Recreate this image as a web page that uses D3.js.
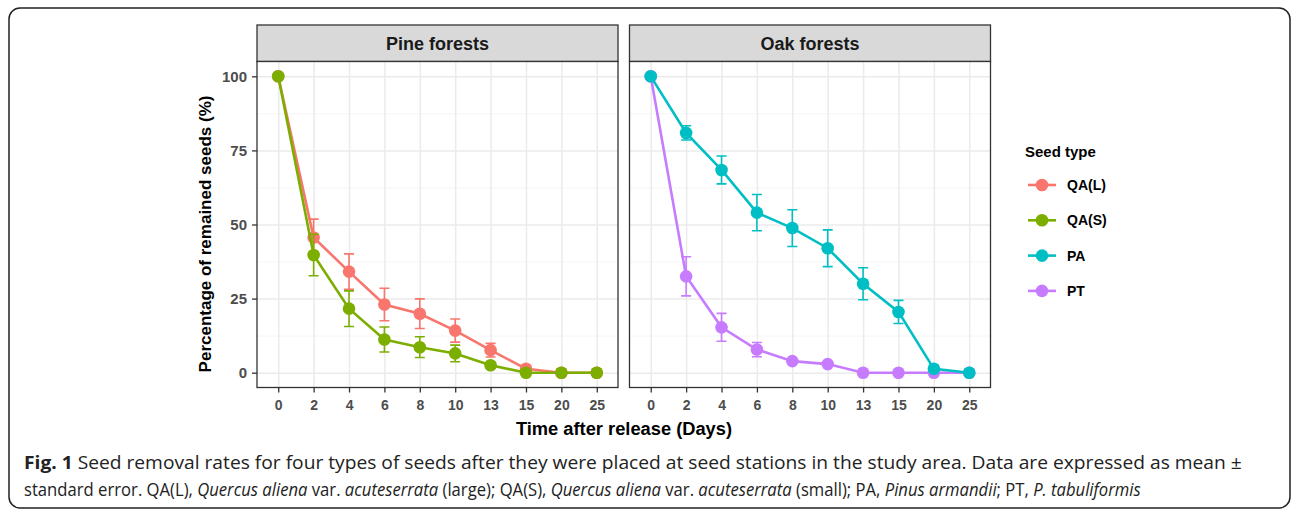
<html>
<head>
    <script src="https://d3js.org/d3.v7.min.js"></script>
    <style>
        body { margin: 0; background: #fff; }
        .gridlines line { stroke: #ebebeb; }
        .gridlines .domain { stroke: none; }
        .minor line { stroke: #f2f2f2; }
        .axis text { font-family: "Liberation Sans", Arial, sans-serif; font-weight: bold; fill: #4d4d4d; }
        .axis line, .axis .domain { stroke: #333; }
        .axis .domain { display: none; }
    </style>
</head>
<body>
<svg height="511" width="1292"></svg>
<script>
    // categories (days, treated as discrete levels)
    const days = ["0", "2", "4", "6", "8", "10", "13", "15", "20", "25"];
    const yTicks = [0, 25, 50, 75, 100];
    const panels = ["Pine forests", "Oak forests"];
    const seedTypes = ["QA(L)", "QA(S)", "PA", "PT"];
    const seedColors = ["#F8766D", "#7CAE00", "#00BFC4", "#C77CFF"];

    // mean % of remained seeds and standard error
    const qaLMean = [100, 45.6, 34.1, 23.0, 19.9, 14.2, 7.6, 1.3, 0, 0];
    const qaLSe   = [0, 6.2, 6.0, 5.5, 5.0, 3.9, 2.3, 0.5, 0, 0];
    const qaSMean = [100, 39.7, 21.6, 11.2, 8.6, 6.5, 2.5, 0, 0, 0];
    const qaSSe   = [0, 7.0, 6.0, 4.2, 3.5, 2.8, 1.0, 0, 0, 0];
    const paMean  = [100, 80.9, 68.4, 54.0, 48.8, 42.0, 30.0, 20.5, 1.3, 0];
    const paSe    = [0, 2.4, 4.7, 6.1, 6.2, 6.2, 5.4, 3.9, 0.5, 0];
    const ptMean  = [100, 32.5, 15.3, 7.8, 3.9, 2.9, 0, 0, 0, 0];
    const ptSe    = [0, 6.6, 4.7, 2.4, 0, 0, 0, 0, 0, 0];

    const series = [
        { panel: 0, type: 0, mean: qaLMean, se: qaLSe },
        { panel: 0, type: 1, mean: qaSMean, se: qaSSe },
        { panel: 1, type: 3, mean: ptMean, se: ptSe },
        { panel: 1, type: 2, mean: paMean, se: paSe }
    ];

    const svg = d3.select("svg");
    const font = '"Liberation Sans", Arial, sans-serif';

    // outer figure frame
    svg.append("rect")
        .attr("x", 9).attr("y", 8)
        .attr("width", 1281).attr("height", 500)
        .attr("rx", 11)
        .attr("fill", "none")
        .attr("stroke", "#222")
        .attr("stroke-width", 1.5);

    const panelLefts = [257, 629.5];
    const panelWidth = 361;
    const stripTop = 25, panelTop = 61.5, panelBottom = 387.5;

    const yScale = d3.scaleLinear().domain([-5, 105]).range([panelBottom, panelTop]);

    panels.forEach((name, p) => {
        const x0 = panelLefts[p];
        const xScale = d3.scalePoint().domain(days)
            .range([x0, x0 + panelWidth]).padding(0.6);

        // strip
        svg.append("rect")
            .attr("x", x0).attr("y", stripTop)
            .attr("width", panelWidth).attr("height", panelTop - stripTop)
            .attr("fill", "#d9d9d9").attr("stroke", "#333").attr("stroke-width", 1.3);
        svg.append("text")
            .attr("x", x0 + panelWidth / 2).attr("y", 50)
            .attr("text-anchor", "middle")
            .attr("font-family", font).attr("font-weight", "bold")
            .attr("font-size", 18).attr("fill", "#1a1a1a")
            .text(name);

        // panel background
        svg.append("rect")
            .attr("x", x0).attr("y", panelTop)
            .attr("width", panelWidth).attr("height", panelBottom - panelTop)
            .attr("fill", "#fff");

        // minor y grid
        svg.append("g")
            .attr("class", "gridlines minor")
            .attr("transform", `translate(${x0},0)`)
            .call(d3.axisLeft(yScale).tickValues([12.5, 37.5, 62.5, 87.5]).tickFormat("").tickSize(-panelWidth))
            .selectAll("line").attr("stroke-width", 0.8);

        // major grid
        svg.append("g")
            .attr("class", "gridlines")
            .attr("transform", `translate(${x0},0)`)
            .call(d3.axisLeft(yScale).tickValues(yTicks).tickFormat("").tickSize(-panelWidth))
            .selectAll("line").attr("stroke-width", 1.5);
        svg.append("g")
            .attr("class", "gridlines")
            .attr("transform", `translate(0,${panelBottom})`)
            .call(d3.axisBottom(xScale).tickFormat("").tickSize(-(panelBottom - panelTop)))
            .selectAll("line").attr("stroke-width", 1.5);

        // series
        const area = svg.append("g");
        series.filter(s => s.panel === p).forEach(s => {
            const color = seedColors[s.type];
            const g = area.append("g");
            g.append("path")
                .datum(days)
                .attr("fill", "none")
                .attr("stroke", color)
                .attr("stroke-width", 2.6)
                .attr("d", d3.line().x(d => xScale(d)).y((d, i) => yScale(s.mean[i])));

            days.forEach((d, i) => {
                if (s.se[i] > 0.8) {
                    const x = xScale(d);
                    const yT = yScale(s.mean[i] + s.se[i]);
                    const yB = yScale(s.mean[i] - s.se[i]);
                    g.append("path")
                        .attr("d", `M${x - 5},${yT}H${x + 5}M${x},${yT}V${yB}M${x - 5},${yB}H${x + 5}`)
                        .attr("fill", "none")
                        .attr("stroke", color)
                        .attr("stroke-width", 1.6);
                }
            });
            days.forEach((d, i) => {
                g.append("circle")
                    .attr("cx", xScale(d))
                    .attr("cy", yScale(s.mean[i]))
                    .attr("r", 6.3)
                    .attr("fill", color);
            });
        });

        // panel border
        svg.append("rect")
            .attr("x", x0).attr("y", panelTop)
            .attr("width", panelWidth).attr("height", panelBottom - panelTop)
            .attr("fill", "none").attr("stroke", "#333").attr("stroke-width", 1.3);

        // x axis
        const xAxis = svg.append("g")
            .attr("class", "axis")
            .attr("transform", `translate(0,${panelBottom})`)
            .call(d3.axisBottom(xScale).tickSize(5).tickPadding(8));
        xAxis.selectAll("text").attr("font-size", 14);
        xAxis.selectAll("line").attr("stroke-width", 1.3);

        // y axis on first panel only
        if (p === 0) {
            const yAxis = svg.append("g")
                .attr("class", "axis")
                .attr("transform", `translate(${x0},0)`)
                .call(d3.axisLeft(yScale).tickValues(yTicks).tickSize(5).tickPadding(5));
            yAxis.selectAll("text").attr("font-size", 15);
            yAxis.selectAll("line").attr("stroke-width", 1.3);
        }
    });

    // axis titles
    svg.append("text")
        .attr("x", 624).attr("y", 435)
        .attr("text-anchor", "middle")
        .attr("font-family", font).attr("font-weight", "bold")
        .attr("font-size", 18.3).attr("fill", "#000")
        .text("Time after release (Days)");
    svg.append("text")
        .attr("transform", "translate(211,234) rotate(-90)")
        .attr("text-anchor", "middle")
        .attr("font-family", font).attr("font-weight", "bold")
        .attr("font-size", 17).attr("fill", "#000")
        .text("Percentage of remained seeds (%)");

    // legend
    const legend = svg.append("g").attr("transform", "translate(1025,0)");
    legend.append("text")
        .attr("x", 0).attr("y", 157)
        .attr("font-family", font).attr("font-weight", "bold")
        .attr("font-size", 15).attr("fill", "#000")
        .text("Seed type");
    seedTypes.forEach((t, i) => {
        const y = 185 + i * 35.3;
        legend.append("line")
            .attr("x1", 3).attr("x2", 31).attr("y1", y).attr("y2", y)
            .attr("stroke", seedColors[i]).attr("stroke-width", 2.6);
        legend.append("circle")
            .attr("cx", 17).attr("cy", y).attr("r", 6.3)
            .attr("fill", seedColors[i]);
        legend.append("text")
            .attr("x", 42).attr("y", y + 5)
            .attr("font-family", font).attr("font-weight", "bold")
            .attr("font-size", 14).attr("fill", "#000")
            .text(t);
    });

    // caption
    const capFont = '"Open Sans", "Liberation Sans", sans-serif';
    const captionLines = [
        [["Fig. 1", "b"], [" Seed removal rates for four types of seeds after they were placed at seed stations in the study area. Data are expressed as mean\u00a0\u00b1", ""]],
        [["standard error. QA(L), ", ""], ["Quercus aliena", "i"], [" var. ", ""], ["acuteserrata", "i"], [" (large); QA(S), ", ""],
         ["Quercus aliena", "i"], [" var. ", ""], ["acuteserrata", "i"], [" (small); PA, ", ""], ["Pinus armandii", "i"],
         ["; PT, ", ""], ["P. tabuliformis", "i"]]
    ];
    const capTargets = [1219, 1117];
    captionLines.forEach((parts, li) => {
        const t = svg.append("text")
            .attr("x", 0).attr("y", 0)
            .attr("font-family", capFont).attr("font-size", 17.5).attr("fill", "#222");
        parts.forEach(([s, st]) => {
            t.append("tspan")
                .attr("font-weight", st === "b" ? "bold" : null)
                .attr("font-style", st === "i" ? "italic" : null)
                .text(s);
        });
        const w = t.node().getComputedTextLength();
        t.attr("transform", `translate(24,${469 + li * 27}) scale(${capTargets[li] / w},1)`);
    });
</script>
</body>
</html>
